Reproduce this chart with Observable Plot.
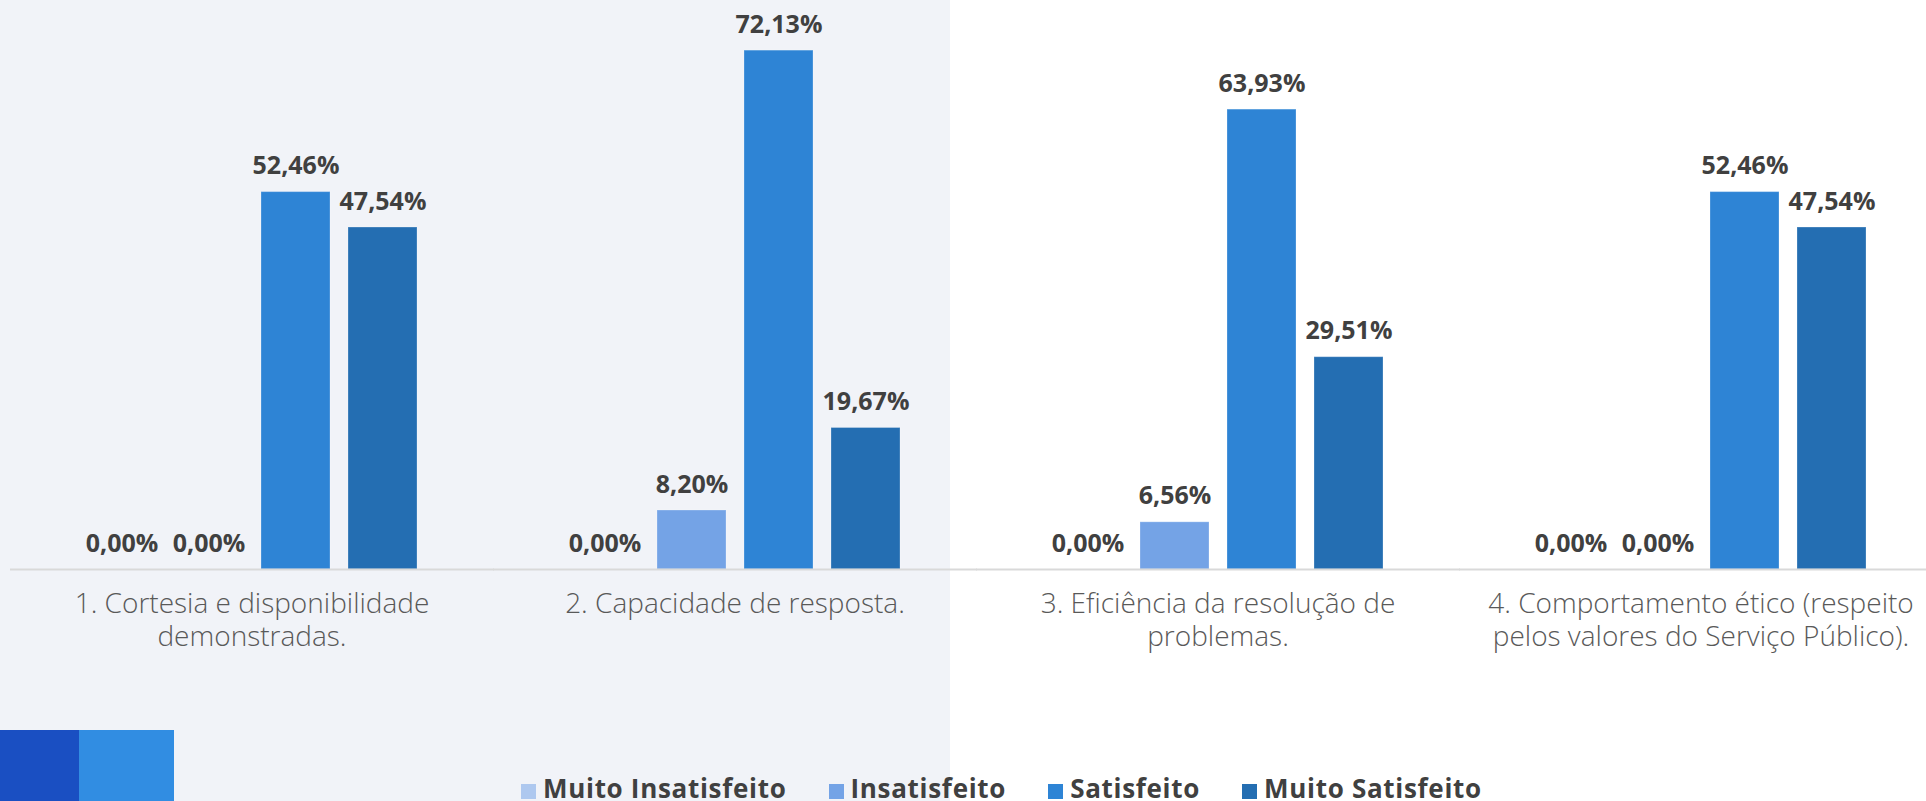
<!DOCTYPE html>
<html>
<head>
<meta charset="utf-8">
<script src="https://cdn.jsdelivr.net/npm/d3@7"></script>
<script src="https://cdn.jsdelivr.net/npm/@observablehq/plot@0.6"></script>
<style>
  html, body { margin: 0; padding: 0; width: 1926px; height: 801px; overflow: hidden; }
  body { background: linear-gradient(to right, #f1f3f8 0, #f1f3f8 950px, #ffffff 950px); font-family: "Open Sans", sans-serif; position: relative; }
  #chart { position: absolute; left: 0; top: 0; }
  .deco { position: absolute; top: 730px; height: 71px; }
  #legend { position: absolute; left: 521px; top: 775px; display: flex; align-items: flex-start; white-space: nowrap; }
  .item { display: flex; align-items: flex-start; margin-right: 42px; font-weight: 700; font-size: 26px; line-height: 26px; letter-spacing: 0.7px; color: #404040; }
  .sw { width: 15px; height: 15px; margin-top: 9px; margin-right: 7px; }
</style>
</head>
<body>
<div class="deco" style="left:0;width:79px;background:#1a4fc2"></div>
<div class="deco" style="left:79px;width:95px;background:#318de2"></div>
<div id="chart"></div>
<div id="legend"></div>
<script>
const categories = [
  "1. Cortesia e disponibilidade demonstradas.",
  "2. Capacidade de resposta.",
  "3. Eficiência da resolução de problemas.",
  "4. Comportamento ético (respeito pelos valores do Serviço Público)."
];
const tickLabels = [
  "1. Cortesia e disponibilidade\ndemonstradas.",
  "2. Capacidade de resposta.",
  "3. Eficiência da resolução de\nproblemas.",
  "4. Comportamento ético (respeito\npelos valores do Serviço Público)."
];
const series = ["Muito Insatisfeito", "Insatisfeito", "Satisfeito", "Muito Satisfeito"];
const colors = ["#aec8ef", "#74a3e6", "#2e84d5", "#246eb2"];
const muitoInsatisfeito = [0.00, 0.00, 0.00, 0.00];
const insatisfeito = [0.00, 8.20, 6.56, 0.00];
const satisfeito = [52.46, 72.13, 63.93, 52.46];
const muitoSatisfeito = [47.54, 19.67, 29.51, 47.54];

const valuesBySeries = [muitoInsatisfeito, insatisfeito, satisfeito, muitoSatisfeito];
const data = [];
categories.forEach((c, i) => {
  series.forEach((s, j) => data.push({category: c, series: s, value: valuesBySeries[j][i]}));
});
const labelData = categories.map((c, i) => ({category: c, label: tickLabels[i]}));
const fmt = v => v.toFixed(2).replace(".", ",") + "%";

const plot = Plot.plot({
  width: 1926,
  height: 730,
  marginTop: 0,
  marginLeft: 27,
  marginRight: 0,
  marginBottom: 161,
  style: {background: "transparent", maxWidth: "none", overflow: "hidden", fontFamily: "Open Sans, sans-serif"},
  fx: {domain: categories, paddingInner: 0.31, paddingOuter: 0.12, axis: null, label: null},
  x: {domain: series, paddingInner: 0.21, paddingOuter: 0, axis: null, label: null},
  y: {domain: [0, 79.1], axis: null, label: null},
  color: {domain: series, range: colors},
  marks: [
    Plot.barY(data, {fx: "category", x: "series", y: "value", fill: "series", stroke: "#ffffff", strokeOpacity: 0.25, strokeWidth: 1}),
    Plot.ruleY(categories, {fx: d => d, y: 0, stroke: "#d9d9d9", strokeWidth: 2, insetLeft: -75, insetRight: -76}),
    Plot.text(data, {fx: "category", x: "series", y: "value", text: d => fmt(d.value), dy: -26, fill: "#404040", fontWeight: 700, fontSize: 25}),
    Plot.text(labelData, {fx: "category", text: "label", frameAnchor: "bottom", lineAnchor: "top", dy: 20, lineHeight: 1.18, fill: "#595959", fontWeight: 300, fontSize: 28, letterSpacing: 2.5})
  ]
});
document.getElementById("chart").appendChild(plot);

const legend = document.getElementById("legend");
series.forEach((s, i) => {
  const item = document.createElement("div");
  item.className = "item";
  const sw = document.createElement("div");
  sw.className = "sw";
  sw.style.background = colors[i];
  const t = document.createElement("span");
  t.textContent = s;
  item.appendChild(sw);
  item.appendChild(t);
  legend.appendChild(item);
});
</script>
</body>
</html>
